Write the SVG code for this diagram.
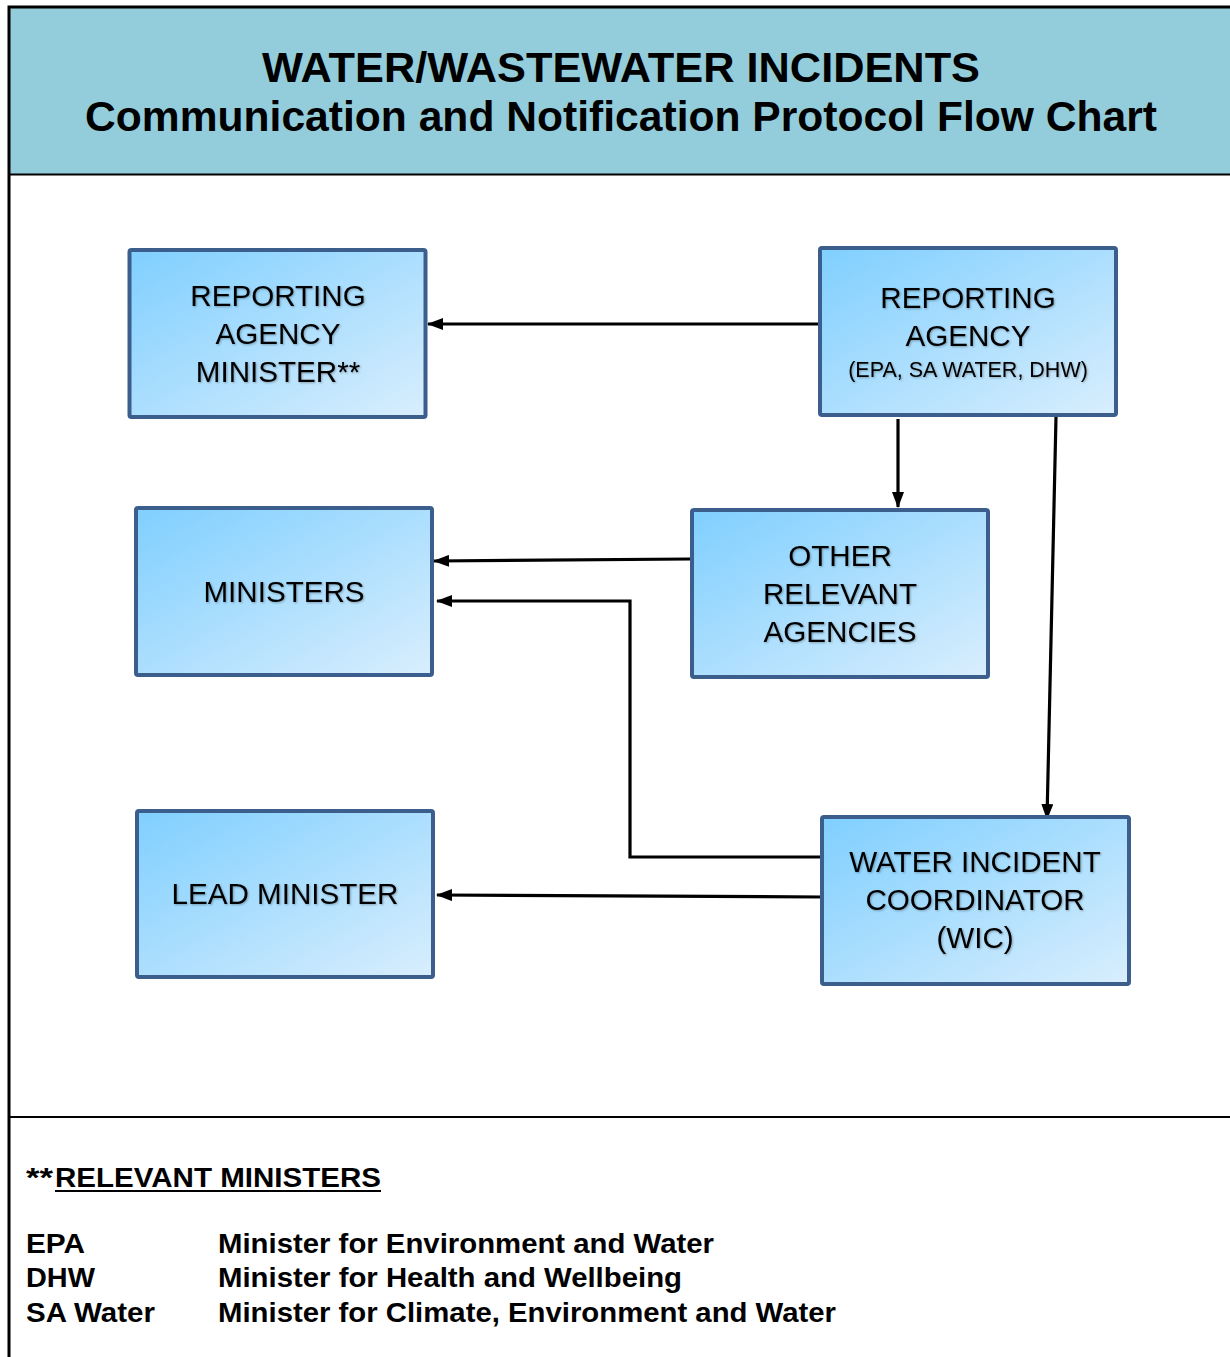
<svg xmlns="http://www.w3.org/2000/svg" width="1230" height="1357" viewBox="0 0 1230 1357">
<style>
.box{stroke:#3B5E8D;stroke-width:4;fill:url(#g)}
.nt{font-family:"Liberation Sans",Arial,sans-serif;font-size:29.6px;fill:#000;text-anchor:middle;filter:url(#sh)}
.sm{font-size:21.5px}
.ttl{font-family:"Liberation Sans",Arial,sans-serif;font-weight:bold;font-size:42.5px;text-anchor:middle;fill:#000}
.leg{font-family:"Liberation Sans",Arial,sans-serif;font-weight:bold;font-size:27px;fill:#000}
.con{stroke:#000;stroke-width:3.2;fill:none;marker-end:url(#ah)}
</style>
<defs>
<linearGradient id="g" x1="0" y1="0" x2="1" y2="1">
<stop offset="0" stop-color="#7FCFFF"/>
<stop offset="1" stop-color="#D9EEFD"/>
</linearGradient>
<filter id="sh" x="-10%" y="-20%" width="120%" height="140%">
<feDropShadow dx="1" dy="1" stdDeviation="0.8" flood-color="#000" flood-opacity="0.3"/>
</filter>
<marker id="ah" viewBox="0 0 16 12" refX="15" refY="6" markerWidth="16" markerHeight="12" markerUnits="userSpaceOnUse" orient="auto">
<path d="M0,0 L16,6 L0,12 Z" fill="#000"/>
</marker>
</defs>
<rect width="1230" height="1357" fill="#fff"/>
<g id="frame">
<rect x="9" y="7" width="1225" height="167" fill="#93CDDB"/>
<path d="M1230,7 H9 V1357" stroke="#000" stroke-width="3" fill="none"/>
<line x1="9" y1="174.5" x2="1230" y2="174.5" stroke="#000" stroke-width="2"/>
<line x1="9" y1="1117" x2="1230" y2="1117" stroke="#000" stroke-width="2"/>
</g>
<g id="title">
<text class="ttl" x="621" y="82" textLength="718" lengthAdjust="spacingAndGlyphs">WATER/WASTEWATER INCIDENTS</text>
<text class="ttl" x="621" y="131" textLength="1072" lengthAdjust="spacingAndGlyphs">Communication and Notification Protocol Flow Chart</text>
</g>
<g id="connectors">
<line class="con" x1="819" y1="324" x2="428" y2="324"/>
<line class="con" x1="898" y1="419" x2="898" y2="507"/>
<line class="con" x1="1056" y1="417" x2="1047" y2="819"/>
<line class="con" x1="690" y1="559" x2="434" y2="561"/>
<polyline class="con" points="822,857 630,857 630,601 437,601"/>
<line class="con" x1="822" y1="897" x2="437" y2="895"/>
</g>
<g id="n1">
<rect class="box" x="129.5" y="250" width="296" height="167" rx="2"/>
<text class="nt" x="278" y="306">REPORTING</text>
<text class="nt" x="278" y="344">AGENCY</text>
<text class="nt" x="278" y="382">MINISTER**</text>
</g>
<g id="n2">
<rect class="box" x="820" y="248" width="296" height="167" rx="2"/>
<text class="nt" x="968" y="308">REPORTING</text>
<text class="nt" x="968" y="346">AGENCY</text>
<text class="nt sm" x="968" y="377">(EPA, SA WATER, DHW)</text>
</g>
<g id="n3">
<rect class="box" x="136" y="508" width="296" height="167" rx="2"/>
<text class="nt" x="284" y="602">MINISTERS</text>
</g>
<g id="n4">
<rect class="box" x="692" y="510" width="296" height="167" rx="2"/>
<text class="nt" x="840" y="566">OTHER</text>
<text class="nt" x="840" y="604">RELEVANT</text>
<text class="nt" x="840" y="642">AGENCIES</text>
</g>
<g id="n5">
<rect class="box" x="137" y="811" width="296" height="166" rx="2"/>
<text class="nt" x="285" y="904">LEAD MINISTER</text>
</g>
<g id="n6">
<rect class="box" x="822" y="817" width="307" height="167" rx="2"/>
<text class="nt" x="975" y="872">WATER INCIDENT</text>
<text class="nt" x="975" y="910">COORDINATOR</text>
<text class="nt" x="975" y="948">(WIC)</text>
</g>
<g id="legend">
<text class="leg" x="26" y="1187" textLength="27" lengthAdjust="spacingAndGlyphs">**</text>
<text class="leg" x="55" y="1187" textLength="326" lengthAdjust="spacingAndGlyphs">RELEVANT MINISTERS</text>
<line x1="55" y1="1191" x2="381" y2="1191" stroke="#000" stroke-width="2"/>
<text class="leg" x="26" y="1253" textLength="59" lengthAdjust="spacingAndGlyphs">EPA</text>
<text class="leg" x="26" y="1287" textLength="69" lengthAdjust="spacingAndGlyphs">DHW</text>
<text class="leg" x="26" y="1322" textLength="129" lengthAdjust="spacingAndGlyphs">SA Water</text>
<text class="leg" x="218" y="1253" textLength="496" lengthAdjust="spacingAndGlyphs">Minister for Environment and Water</text>
<text class="leg" x="218" y="1287" textLength="464" lengthAdjust="spacingAndGlyphs">Minister for Health and Wellbeing</text>
<text class="leg" x="218" y="1322" textLength="618" lengthAdjust="spacingAndGlyphs">Minister for Climate, Environment and Water</text>
</g>
</svg>
